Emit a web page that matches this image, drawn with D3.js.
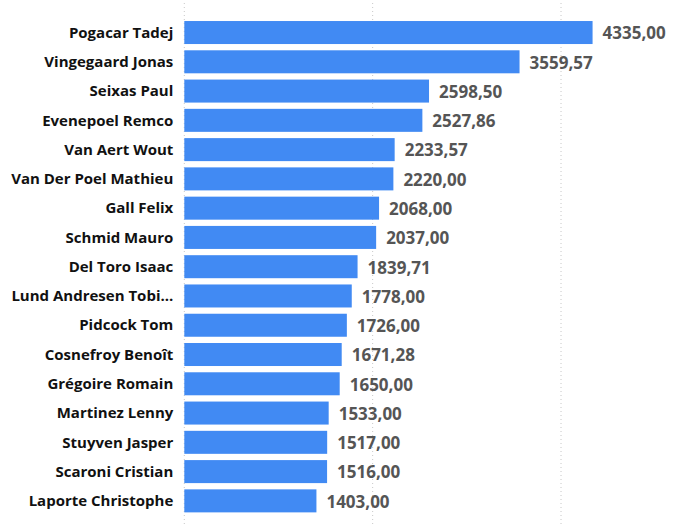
<!DOCTYPE html>
<html><head><meta charset="utf-8">
<script src="https://cdn.jsdelivr.net/npm/d3@7"></script>
<style>
html,body{margin:0;padding:0;background:#fff;}
svg{display:block;}
</style></head>
<body>
<svg id="chart" width="680" height="524"></svg>
<script>
const riders = ["Pogacar Tadej","Vingegaard Jonas","Seixas Paul","Evenepoel Remco","Van Aert Wout","Van Der Poel Mathieu","Gall Felix","Schmid Mauro","Del Toro Isaac","Lund Andresen Tobi...","Pidcock Tom","Cosnefroy Benoît","Grégoire Romain","Martinez Lenny","Stuyven Jasper","Scaroni Cristian","Laporte Christophe"];
const points = [4335.00,3559.57,2598.50,2527.86,2233.57,2220.00,2068.00,2037.00,1839.71,1778.00,1726.00,1671.28,1650.00,1533.00,1517.00,1516.00,1403.00];
const gridTicks = [0,2000,4000];

const svg = d3.select("#chart");
const font = "'Open Sans', 'Noto Sans', sans-serif";

const x = d3.scaleLinear().domain([0,5000]).range([184.3, 655.2]);
const y = d3.scaleBand().domain(riders).range([18.1, 515.3]).paddingInner(0.214).paddingOuter(0.1);

const loc = d3.formatLocale({decimal:",", thousands:"", grouping:[3], currency:["",""]});
const fmt = loc.format(".2f");

svg.append("g").selectAll("line").data(gridTicks).join("line")
  .attr("x1", d=>x(d)).attr("x2", d=>x(d))
  .attr("y1", 3).attr("y2", 524)
  .attr("stroke", "#c8c8c8").attr("stroke-width", 1)
  .attr("stroke-dasharray", "1,3");

const data = riders.map((r,i)=>({r, v: points[i]}));

svg.append("g").selectAll("rect").data(data).join("rect")
  .attr("x", x(0)).attr("y", d=>y(d.r))
  .attr("width", d=>x(d.v)-x(0)).attr("height", y.bandwidth())
  .attr("fill", "#418af3");

svg.append("g").selectAll("text").data(data).join("text")
  .attr("x", x(0)-11).attr("y", d=>y(d.r)+y.bandwidth()/2)
  .attr("dy", "0.35em").attr("text-anchor","end")
  .attr("font-family", font).attr("font-weight", 700).attr("font-size", "15px")
  .attr("fill", "#111")
  .text(d=>d.r);

svg.append("g").selectAll("text").data(data).join("text")
  .attr("x", d=>x(d.v)+10).attr("y", d=>y(d.r)+y.bandwidth()/2)
  .attr("dy", "0.4em")
  .attr("font-family", font).attr("font-weight", 700).attr("font-size", "17px")
  .attr("fill", "#555")
  .text(d=>fmt(d.v));
</script>
</body></html>
